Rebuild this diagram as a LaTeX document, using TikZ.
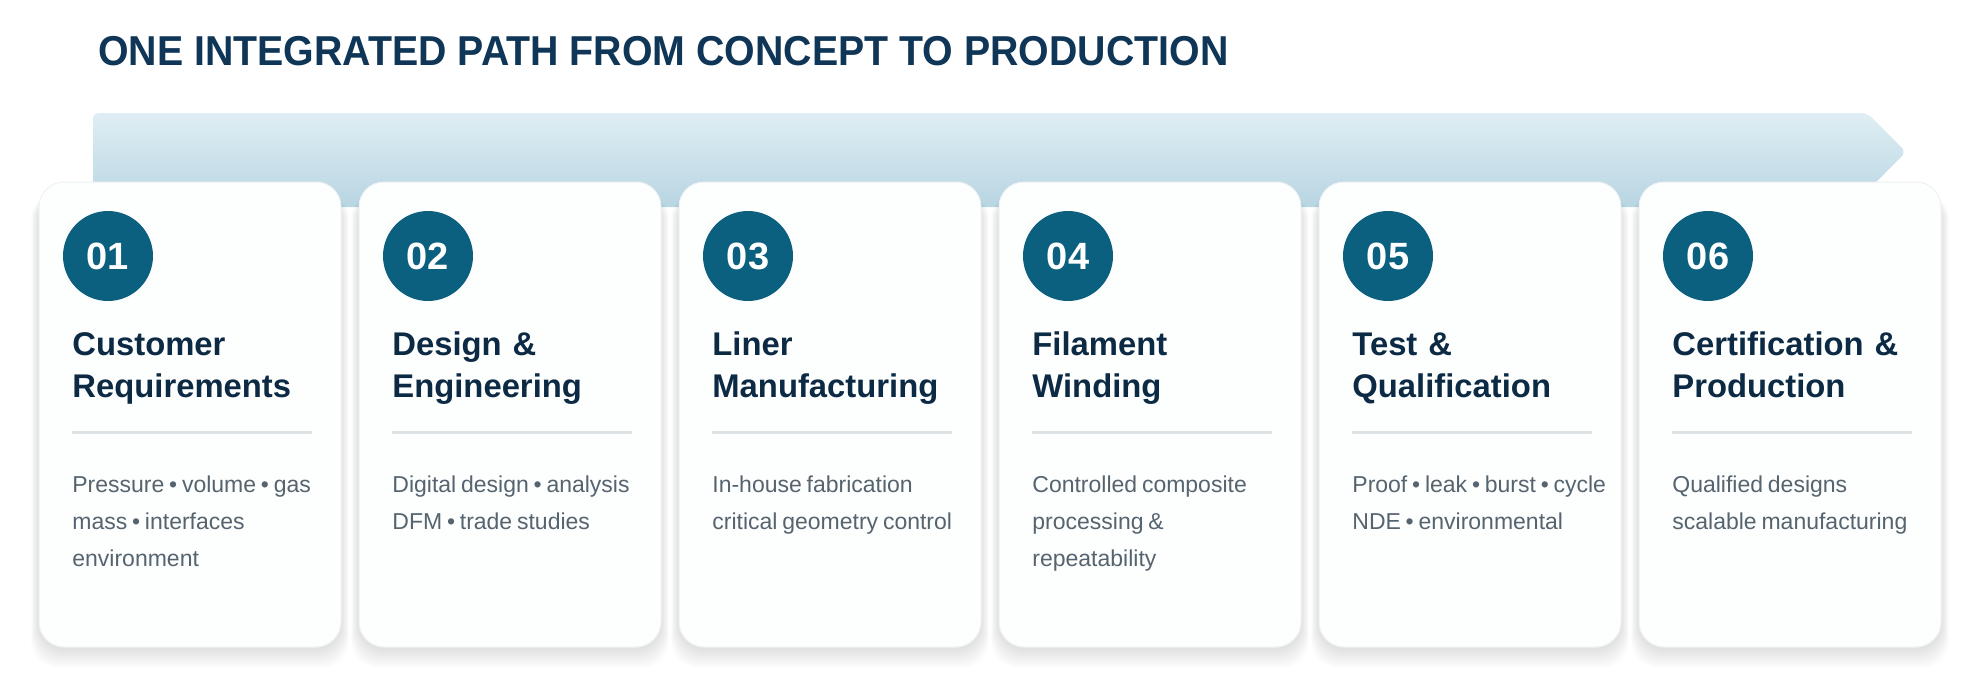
\documentclass[tikz,border=0pt]{standalone}
\usepackage{fontspec}
\setmainfont{Liberation Sans}
\newfontfamily\titlefont{Liberation Sans}[FakeStretch=0.94]
\usepackage{xcolor}
\definecolor{titleblue}{HTML}{0F3557}
\definecolor{headnavy}{HTML}{0D2A45}
\definecolor{bodygray}{HTML}{56646F}
\definecolor{stepteal}{HTML}{0B5F7F}
\definecolor{rulegray}{HTML}{DCE2E6}
\definecolor{bandtop}{HTML}{DFEEF4}
\definecolor{bandbot}{HTML}{B8D5E2}
\definecolor{cardfill}{HTML}{FDFEFE}
\definecolor{cardedge}{HTML}{EEF2F4}
\tikzset{
  card/.style={fill=cardfill,draw=cardedge,line width=0.5pt,rounded corners=12.5pt},
  stepnum/.style={circle,fill=stepteal,minimum size=45pt,inner sep=0pt,text=white,
    font=\bfseries\fontsize{19}{19}\selectfont},
  stephead/.style={anchor=base west,inner sep=0pt,text width=140pt,align=left,text=headnavy,
    font=\bfseries\fontsize{16.4}{21}\selectfont},
  stepbody/.style={anchor=base west,inner sep=0pt,text width=140pt,align=left,text=bodygray,
    font=\fontsize{11.5}{18.5}\selectfont,execute at begin node={\spaceskip=2.4pt\relax}}
}

\begin{document}
\begin{tikzpicture}[x=0.5pt,y=-0.5pt]
	\useasboundingbox (0,0) rectangle (1983,685);
	\node[anchor=base west,inner sep=0pt,text=titleblue,font=\titlefont\bfseries\fontsize{20.9}{24}\selectfont]
	(title) at (98,65) {ONE INTEGRATED PATH FROM CONCEPT TO PRODUCTION};
	% arrow band behind the cards
	\shade[top color=bandtop,bottom color=bandbot,rounded corners=3pt]
	(93,207)--(93,113)--(1867,113)--(1906,152)--(1851,207)--cycle;
	\foreach \i/\hd/\bd [evaluate=\i as \x using 39+320*(\i-1)] in {
		1/{Customer\\Requirements}/{Pressure • volume • gas\\mass • interfaces\\environment},
		2/{Design \&\\Engineering}/{Digital design • analysis\\DFM • trade studies},
		3/{Liner\\Manufacturing}/{In-house fabrication\\critical geometry control},
		4/{Filament\\Winding}/{Controlled composite\\processing \&\\repeatability},
		5/{Test \&\\Qualification}/{Proof • leak • burst • cycle\\NDE • environmental},
		6/{Certification \&\\Production}/{Qualified designs\\scalable manufacturing}}{
		\foreach \k in {1,...,10}
			\fill[black,opacity=0.011,rounded corners=14pt] (\x-0.8*\k,192) rectangle (\x+302+0.8*\k,648+2*\k);
		\draw[card] (\x,182) rectangle (\x+302,647);
		\node[stepnum] (n\i) at (\x+69,256) {0\i};
		\node[stephead] (h\i) at (\x+33,355) {\hd};
		\draw[rulegray,line width=1.5pt] (\x+33,432)--(\x+273,432);
		\node[stepbody] (b\i) at (\x+33,492) {\bd};
	}
\end{tikzpicture}
\end{document}
